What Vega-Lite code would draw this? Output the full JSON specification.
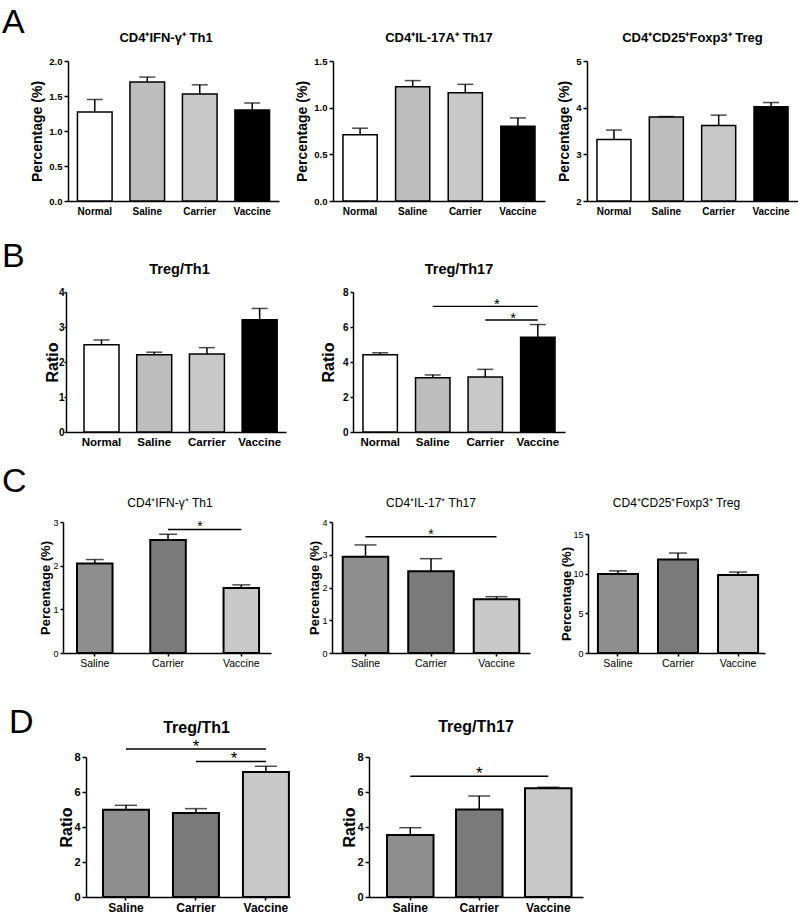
{
"$schema": "https://vega.github.io/schema/vega-lite/v6.json",
"background": "white",
"padding": {"left": 2, "top": 6, "right": 0, "bottom": 0},
"spacing": 17,
"resolve": {"scale": {"fill": "independent"}},
"config": {
  "font": "Liberation Sans",
  "view": {"stroke": null},
  "axis": {"grid": false, "labelOverlap": false, "domainColor": "black", "domainWidth": 1.5, "tickColor": "black", "tickWidth": 1.5, "labelColor": "black", "titleColor": "black", "labelFont": "Liberation Sans", "titleFont": "Liberation Sans", "labelFontWeight": "bold", "titleFontWeight": "bold"},
  "title": {"font": "Liberation Sans", "fontWeight": "bold", "color": "black"},
  "text": {"font": "Liberation Sans", "color": "black"}
},
"vconcat": [
 {"spacing": 24, "resolve": {"scale": {"fill": "independent"}}, "vconcat": [
  {"title": {"text": "A", "anchor": "start", "frame": "group", "fontSize": 34, "fontWeight": "normal", "dx": -61, "offset": -8},
   "bounds": "flush", "spacing": 54, "resolve": {"scale": {"fill": "independent"}},
   "hconcat": [
    {"width": 216, "height": 140,
     "title": {"text": "CD4⁺IFN-γ⁺ Th1", "fontSize": 13, "offset": 11, "dx": -5},
     "data": {"values": [
       {"group": "Normal", "value": 1.27, "err": 1.45},
       {"group": "Saline", "value": 1.70, "err": 1.77},
       {"group": "Carrier", "value": 1.53, "err": 1.66},
       {"group": "Vaccine", "value": 1.30, "err": 1.40}]},
     "layer": [
      {"mark": {"type": "bar", "stroke": "black", "strokeWidth": 1.5},
       "encoding": {
        "x": {"field": "group", "type": "nominal", "sort": null,
              "scale": {"domain": ["Normal", "Saline", "Carrier", "Vaccine"], "range": [5, 216], "paddingInner": 0.34, "paddingOuter": 0.18},
              "axis": {"title": null, "labelAngle": 0, "ticks": false, "labelFontSize": 10, "labelPadding": 5}},
        "y": {"field": "value", "type": "quantitative", "title": "Percentage (%)",
              "scale": {"domain": [0, 2], "nice": false},
              "axis": {"values": [0, 0.5, 1, 1.5, 2], "format": ".1f", "offset": -5, "labelFontSize": 9.5, "titleFontSize": 14, "titlePadding": 4, "tickSize": 4}},
        "fill": {"field": "group", "type": "nominal", "scale": {"domain": ["Normal", "Saline", "Carrier", "Vaccine"], "range": ["white", "#bdbdbd", "#c8c8c8", "black"]}, "legend": null}}},
      {"mark": {"type": "rule", "color": "black", "strokeWidth": 1.5},
       "encoding": {"x": {"field": "group", "type": "nominal", "title": null}, "y": {"field": "value", "type": "quantitative", "title": "Percentage (%)", "axis": {"values": [0, 0.5, 1, 1.5, 2], "format": ".1f", "offset": -5, "labelFontSize": 9.5, "titleFontSize": 14, "titlePadding": 4, "tickSize": 4}}, "y2": {"field": "err"}}},
      {"mark": {"type": "tick", "color": "black", "thickness": 1.5, "size": 16},
       "encoding": {"x": {"field": "group", "type": "nominal", "title": null}, "y": {"field": "err", "type": "quantitative", "title": "Percentage (%)", "axis": {"values": [0, 0.5, 1, 1.5, 2], "format": ".1f", "offset": -5, "labelFontSize": 9.5, "titleFontSize": 14, "titlePadding": 4, "tickSize": 4}}}}
     ]},
    {"bounds": "flush", "spacing": 42, "resolve": {"scale": {"fill": "independent"}},
     "hconcat": [
      {"width": 212, "height": 140,
       "title": {"text": "CD4⁺IL-17A⁺ Th17", "fontSize": 13, "offset": 11},
       "data": {"values": [
         {"group": "Normal", "value": 0.71, "err": 0.78},
         {"group": "Saline", "value": 1.225, "err": 1.29},
         {"group": "Carrier", "value": 1.16, "err": 1.25},
         {"group": "Vaccine", "value": 0.80, "err": 0.89}]},
       "layer": [
        {"mark": {"type": "bar", "stroke": "black", "strokeWidth": 1.5},
         "encoding": {
          "x": {"field": "group", "type": "nominal", "sort": null,
                "scale": {"domain": ["Normal", "Saline", "Carrier", "Vaccine"], "paddingInner": 0.35, "paddingOuter": 0.19},
                "axis": {"title": null, "labelAngle": 0, "ticks": false, "labelFontSize": 10, "labelPadding": 5}},
          "y": {"field": "value", "type": "quantitative", "title": "Percentage (%)",
                "scale": {"domain": [0, 1.5], "nice": false},
                "axis": {"values": [0, 0.5, 1, 1.5], "format": ".1f", "labelFontSize": 9.5, "titleFontSize": 14, "titlePadding": 4, "tickSize": 4}},
          "fill": {"field": "group", "type": "nominal", "scale": {"domain": ["Normal", "Saline", "Carrier", "Vaccine"], "range": ["white", "#bdbdbd", "#c8c8c8", "black"]}, "legend": null}}},
        {"mark": {"type": "rule", "color": "black", "strokeWidth": 1.5},
         "encoding": {"x": {"field": "group", "type": "nominal", "title": null}, "y": {"field": "value", "type": "quantitative", "title": "Percentage (%)", "axis": {"values": [0, 0.5, 1, 1.5], "format": ".1f", "labelFontSize": 9.5, "titleFontSize": 14, "titlePadding": 4, "tickSize": 4}}, "y2": {"field": "err"}}},
        {"mark": {"type": "tick", "color": "black", "thickness": 1.5, "size": 16},
         "encoding": {"x": {"field": "group", "type": "nominal", "title": null}, "y": {"field": "err", "type": "quantitative", "title": "Percentage (%)", "axis": {"values": [0, 0.5, 1, 1.5], "format": ".1f", "labelFontSize": 9.5, "titleFontSize": 14, "titlePadding": 4, "tickSize": 4}}}}
       ]},
      {"width": 211, "height": 140,
       "title": {"text": "CD4⁺CD25⁺Foxp3⁺ Treg", "fontSize": 13, "offset": 11},
       "data": {"values": [
         {"group": "Normal", "value": 3.32, "err": 3.52},
         {"group": "Saline", "value": 3.80, "err": 3.81},
         {"group": "Carrier", "value": 3.62, "err": 3.84},
         {"group": "Vaccine", "value": 4.02, "err": 4.11}]},
       "layer": [
        {"mark": {"type": "bar", "stroke": "black", "strokeWidth": 1.5},
         "encoding": {
          "x": {"field": "group", "type": "nominal", "sort": null,
                "scale": {"domain": ["Normal", "Saline", "Carrier", "Vaccine"], "paddingInner": 0.35, "paddingOuter": 0.19},
                "axis": {"title": null, "labelAngle": 0, "ticks": false, "labelFontSize": 10, "labelPadding": 5}},
          "y": {"field": "value", "type": "quantitative", "title": "Percentage (%)",
                "scale": {"domain": [2, 5], "nice": false, "zero": false},
                "axis": {"values": [2, 3, 4, 5], "format": "d", "labelFontSize": 9.5, "titleFontSize": 14, "titlePadding": 4, "tickSize": 4}},
          "y2": {"datum": 2},
          "fill": {"field": "group", "type": "nominal", "scale": {"domain": ["Normal", "Saline", "Carrier", "Vaccine"], "range": ["white", "#bdbdbd", "#c8c8c8", "black"]}, "legend": null}}},
        {"mark": {"type": "rule", "color": "black", "strokeWidth": 1.5},
         "encoding": {"x": {"field": "group", "type": "nominal", "title": null}, "y": {"field": "value", "type": "quantitative", "title": "Percentage (%)", "axis": {"values": [2, 3, 4, 5], "format": "d", "labelFontSize": 9.5, "titleFontSize": 14, "titlePadding": 4, "tickSize": 4}}, "y2": {"field": "err"}}},
        {"mark": {"type": "tick", "color": "black", "thickness": 1.5, "size": 16},
         "encoding": {"x": {"field": "group", "type": "nominal", "title": null}, "y": {"field": "err", "type": "quantitative", "title": "Percentage (%)", "axis": {"values": [2, 3, 4, 5], "format": "d", "labelFontSize": 9.5, "titleFontSize": 14, "titlePadding": 4, "tickSize": 4}}}}
       ]}
     ]}
   ]},
  {"title": {"text": "B", "anchor": "start", "frame": "group", "fontSize": 34, "fontWeight": "normal", "dx": -61, "offset": -12},
   "bounds": "flush", "spacing": 67, "resolve": {"scale": {"fill": "independent"}},
   "hconcat": [
    {"width": 223, "height": 140,
     "title": {"text": "Treg/Th1", "fontSize": 14.5, "offset": 9.5, "dx": 5},
     "data": {"values": [
       {"group": "Normal", "value": 2.49, "err": 2.63},
       {"group": "Saline", "value": 2.21, "err": 2.28},
       {"group": "Carrier", "value": 2.23, "err": 2.41},
       {"group": "Vaccine", "value": 3.21, "err": 3.53}]},
     "layer": [
      {"mark": {"type": "bar", "stroke": "black", "strokeWidth": 1.5},
       "encoding": {
        "x": {"field": "group", "type": "nominal", "sort": null,
              "scale": {"domain": ["Normal", "Saline", "Carrier", "Vaccine"], "range": [3, 223], "paddingInner": 0.336, "paddingOuter": 0.255, "align": 0.67},
              "axis": {"title": null, "labelAngle": 0, "ticks": false, "labelFontSize": 11.5, "labelPadding": 4}},
        "y": {"field": "value", "type": "quantitative", "title": "Ratio",
              "scale": {"domain": [0, 4], "nice": false},
              "axis": {"values": [0, 1, 2, 3, 4], "format": "d", "offset": -3, "labelFontSize": 10, "labelPadding": 0, "titleFontSize": 16, "titlePadding": -2, "tickSize": 2}},
        "fill": {"field": "group", "type": "nominal", "scale": {"domain": ["Normal", "Saline", "Carrier", "Vaccine"], "range": ["white", "#bdbdbd", "#c8c8c8", "black"]}, "legend": null}}},
      {"mark": {"type": "rule", "color": "black", "strokeWidth": 1.5},
       "encoding": {"x": {"field": "group", "type": "nominal", "title": null}, "y": {"field": "value", "type": "quantitative", "title": "Ratio", "axis": {"values": [0, 1, 2, 3, 4], "format": "d", "offset": -3, "labelFontSize": 10, "labelPadding": 0, "titleFontSize": 16, "titlePadding": -2, "tickSize": 2}}, "y2": {"field": "err"}}},
      {"mark": {"type": "tick", "color": "black", "thickness": 1.5, "size": 16},
       "encoding": {"x": {"field": "group", "type": "nominal", "title": null}, "y": {"field": "err", "type": "quantitative", "title": "Ratio", "axis": {"values": [0, 1, 2, 3, 4], "format": "d", "offset": -3, "labelFontSize": 10, "labelPadding": 0, "titleFontSize": 16, "titlePadding": -2, "tickSize": 2}}}}
     ]},
    {"width": 212, "height": 140,
     "title": {"text": "Treg/Th17", "fontSize": 14.5, "offset": 9.5},
     "data": {"values": [
       {"group": "Normal", "value": 4.42, "err": 4.53},
       {"group": "Saline", "value": 3.10, "err": 3.26},
       {"group": "Carrier", "value": 3.14, "err": 3.58},
       {"group": "Vaccine", "value": 5.41, "err": 6.14}]},
     "layer": [
      {"mark": {"type": "bar", "stroke": "black", "strokeWidth": 1.5},
       "encoding": {
        "x": {"field": "group", "type": "nominal", "sort": null,
              "scale": {"domain": ["Normal", "Saline", "Carrier", "Vaccine"], "paddingInner": 0.345, "paddingOuter": 0.19},
              "axis": {"title": null, "labelAngle": 0, "ticks": false, "labelFontSize": 11.5, "labelPadding": 4}},
        "y": {"field": "value", "type": "quantitative", "title": "Ratio",
              "scale": {"domain": [0, 8], "nice": false},
              "axis": {"values": [0, 2, 4, 6, 8], "format": "d", "labelFontSize": 10, "titleFontSize": 16, "titlePadding": 6, "tickSize": 3}},
        "fill": {"field": "group", "type": "nominal", "scale": {"domain": ["Normal", "Saline", "Carrier", "Vaccine"], "range": ["white", "#bdbdbd", "#c8c8c8", "black"]}, "legend": null}}},
      {"mark": {"type": "rule", "color": "black", "strokeWidth": 1.5},
       "encoding": {"x": {"field": "group", "type": "nominal", "title": null}, "y": {"field": "value", "type": "quantitative", "title": "Ratio", "axis": {"values": [0, 2, 4, 6, 8], "format": "d", "labelFontSize": 10, "titleFontSize": 16, "titlePadding": 6, "tickSize": 3}}, "y2": {"field": "err"}}},
      {"mark": {"type": "tick", "color": "black", "thickness": 1.5, "size": 16},
       "encoding": {"x": {"field": "group", "type": "nominal", "title": null}, "y": {"field": "err", "type": "quantitative", "title": "Ratio", "axis": {"values": [0, 2, 4, 6, 8], "format": "d", "labelFontSize": 10, "titleFontSize": 16, "titlePadding": 6, "tickSize": 3}}}},
      {"data": {"values": [{"from": "Saline", "to": "Vaccine", "y": 7.18}, {"from": "Carrier", "to": "Vaccine", "y": 6.4}]},
       "mark": {"type": "rule", "color": "black", "strokeWidth": 1.3},
       "encoding": {"x": {"field": "from", "type": "nominal", "title": null}, "x2": {"field": "to"}, "y": {"field": "y", "type": "quantitative", "title": "Ratio", "axis": {"values": [0, 2, 4, 6, 8], "format": "d", "labelFontSize": 10, "titleFontSize": 16, "titlePadding": 6, "tickSize": 3}}}},
      {"data": {"values": [{"at": "Carrier", "y": 7.18}]},
       "mark": {"type": "text", "text": "*", "fontSize": 15, "baseline": "middle", "dy": -2},
       "encoding": {"x": {"field": "at", "type": "nominal", "bandPosition": 0.84, "title": null}, "y": {"field": "y", "type": "quantitative", "title": "Ratio", "axis": {"values": [0, 2, 4, 6, 8], "format": "d", "labelFontSize": 10, "titleFontSize": 16, "titlePadding": 6, "tickSize": 3}}}},
      {"data": {"values": [{"at": "Carrier", "y": 6.4}]},
       "mark": {"type": "text", "text": "*", "fontSize": 15, "baseline": "middle", "dy": -2},
       "encoding": {"x": {"field": "at", "type": "nominal", "bandPosition": 1.31, "title": null}, "y": {"field": "y", "type": "quantitative", "title": "Ratio", "axis": {"values": [0, 2, 4, 6, 8], "format": "d", "labelFontSize": 10, "titleFontSize": 16, "titlePadding": 6, "tickSize": 3}}}}
     ]}
   ]}
 ]},
 {"spacing": 37, "resolve": {"scale": {"fill": "independent"}}, "vconcat": [
  {"title": {"text": "C", "anchor": "start", "frame": "group", "fontSize": 34, "fontWeight": "normal", "dx": -61, "offset": -2},
   "bounds": "flush", "spacing": 61, "resolve": {"scale": {"fill": "independent"}},
   "hconcat": [
    {"width": 208, "height": 131,
     "title": {"text": "CD4⁺IFN-γ⁺ Th1", "fontSize": 12, "fontWeight": "normal", "offset": 8, "dx": 3},
     "data": {"values": [
       {"group": "Saline", "value": 2.05, "err": 2.14},
       {"group": "Carrier", "value": 2.59, "err": 2.72},
       {"group": "Vaccine", "value": 1.49, "err": 1.56}]},
     "layer": [
      {"mark": {"type": "bar", "stroke": "black", "strokeWidth": 2},
       "encoding": {
        "x": {"field": "group", "type": "nominal", "sort": null,
              "scale": {"domain": ["Saline", "Carrier", "Vaccine"], "paddingInner": 0.515, "paddingOuter": 0.177, "align": 0.54},
              "axis": {"title": null, "labelAngle": 0, "ticks": true, "tickSize": 3, "labelFontSize": 10.5, "labelFontWeight": "normal", "labelPadding": 2}},
        "y": {"field": "value", "type": "quantitative", "title": "Percentage (%)",
              "scale": {"domain": [0, 3], "nice": false},
              "axis": {"values": [0, 1, 2, 3], "format": "d", "labelFontSize": 9, "labelFontWeight": "normal", "titleFontSize": 13, "titlePadding": 0, "tickSize": 3}},
        "fill": {"field": "group", "type": "nominal", "scale": {"domain": ["Saline", "Carrier", "Vaccine"], "range": ["#8e8e8e", "#7a7a7a", "#c8c8c8"]}, "legend": null}}},
      {"mark": {"type": "rule", "color": "black", "strokeWidth": 1.5},
       "encoding": {"x": {"field": "group", "type": "nominal", "title": null}, "y": {"field": "value", "type": "quantitative", "title": "Percentage (%)", "axis": {"values": [0, 1, 2, 3], "format": "d", "labelFontSize": 9, "labelFontWeight": "normal", "titleFontSize": 13, "titlePadding": 0, "tickSize": 3}}, "y2": {"field": "err"}}},
      {"mark": {"type": "tick", "color": "black", "thickness": 1.5, "size": 18},
       "encoding": {"x": {"field": "group", "type": "nominal", "title": null}, "y": {"field": "err", "type": "quantitative", "title": "Percentage (%)", "axis": {"values": [0, 1, 2, 3], "format": "d", "labelFontSize": 9, "labelFontWeight": "normal", "titleFontSize": 13, "titlePadding": 0, "tickSize": 3}}}},
      {"data": {"values": [{"from": "Carrier", "to": "Vaccine", "y": 2.83}]},
       "mark": {"type": "rule", "color": "black", "strokeWidth": 1.5},
       "encoding": {"x": {"field": "from", "type": "nominal", "title": null}, "x2": {"field": "to"}, "y": {"field": "y", "type": "quantitative", "title": "Percentage (%)", "axis": {"values": [0, 1, 2, 3], "format": "d", "labelFontSize": 9, "labelFontWeight": "normal", "titleFontSize": 13, "titlePadding": 0, "tickSize": 3}}}},
      {"data": {"values": [{"at": "Carrier", "y": 2.83}]},
       "mark": {"type": "text", "text": "*", "fontSize": 14, "baseline": "middle", "dy": -2},
       "encoding": {"x": {"field": "at", "type": "nominal", "bandPosition": 1.4, "title": null}, "y": {"field": "y", "type": "quantitative", "title": "Percentage (%)", "axis": {"values": [0, 1, 2, 3], "format": "d", "labelFontSize": 9, "labelFontWeight": "normal", "titleFontSize": 13, "titlePadding": 0, "tickSize": 3}}}}
     ]},
    {"bounds": "flush", "spacing": 58, "resolve": {"scale": {"fill": "independent"}},
     "hconcat": [
      {"width": 198, "height": 131,
       "title": {"text": "CD4⁺IL-17⁺ Th17", "fontSize": 12, "fontWeight": "normal", "offset": 8},
       "data": {"values": [
         {"group": "Saline", "value": 2.94, "err": 3.30},
         {"group": "Carrier", "value": 2.50, "err": 2.88},
         {"group": "Vaccine", "value": 1.64, "err": 1.72}]},
       "layer": [
        {"mark": {"type": "bar", "stroke": "black", "strokeWidth": 2},
         "encoding": {
          "x": {"field": "group", "type": "nominal", "sort": null,
                "scale": {"domain": ["Saline", "Carrier", "Vaccine"], "paddingInner": 0.305, "paddingOuter": 0.164},
                "axis": {"title": null, "labelAngle": 0, "ticks": true, "tickSize": 3, "labelFontSize": 10.5, "labelFontWeight": "normal", "labelPadding": 2}},
          "y": {"field": "value", "type": "quantitative", "title": "Percentage (%)",
                "scale": {"domain": [0, 4], "nice": false},
                "axis": {"values": [0, 1, 2, 3, 4], "format": "d", "labelFontSize": 9, "labelFontWeight": "normal", "titleFontSize": 13, "titlePadding": 0, "tickSize": 3}},
          "fill": {"field": "group", "type": "nominal", "scale": {"domain": ["Saline", "Carrier", "Vaccine"], "range": ["#8e8e8e", "#7a7a7a", "#c8c8c8"]}, "legend": null}}},
        {"mark": {"type": "rule", "color": "black", "strokeWidth": 1.5},
         "encoding": {"x": {"field": "group", "type": "nominal", "title": null}, "y": {"field": "value", "type": "quantitative", "title": "Percentage (%)", "axis": {"values": [0, 1, 2, 3, 4], "format": "d", "labelFontSize": 9, "labelFontWeight": "normal", "titleFontSize": 13, "titlePadding": 0, "tickSize": 3}}, "y2": {"field": "err"}}},
        {"mark": {"type": "tick", "color": "black", "thickness": 1.5, "size": 22},
         "encoding": {"x": {"field": "group", "type": "nominal", "title": null}, "y": {"field": "err", "type": "quantitative", "title": "Percentage (%)", "axis": {"values": [0, 1, 2, 3, 4], "format": "d", "labelFontSize": 9, "labelFontWeight": "normal", "titleFontSize": 13, "titlePadding": 0, "tickSize": 3}}}},
        {"data": {"values": [{"from": "Saline", "to": "Vaccine", "y": 3.55}]},
         "mark": {"type": "rule", "color": "black", "strokeWidth": 1.5},
         "encoding": {"x": {"field": "from", "type": "nominal", "title": null}, "x2": {"field": "to"}, "y": {"field": "y", "type": "quantitative", "title": "Percentage (%)", "axis": {"values": [0, 1, 2, 3, 4], "format": "d", "labelFontSize": 9, "labelFontWeight": "normal", "titleFontSize": 13, "titlePadding": 0, "tickSize": 3}}}},
        {"data": {"values": [{"at": "Carrier", "y": 3.55}]},
         "mark": {"type": "text", "text": "*", "fontSize": 14, "baseline": "middle", "dy": -2},
         "encoding": {"x": {"field": "at", "type": "nominal", "title": null}, "y": {"field": "y", "type": "quantitative", "title": "Percentage (%)", "axis": {"values": [0, 1, 2, 3, 4], "format": "d", "labelFontSize": 9, "labelFontWeight": "normal", "titleFontSize": 13, "titlePadding": 0, "tickSize": 3}}}}
       ]},
      {"width": 177, "height": 131,
       "title": {"text": "CD4⁺CD25⁺Foxp3⁺ Treg", "fontSize": 12, "fontWeight": "normal", "offset": 12},
       "data": {"values": [
         {"group": "Saline", "value": 9.96, "err": 10.35},
         {"group": "Carrier", "value": 11.8, "err": 12.6},
         {"group": "Vaccine", "value": 9.84, "err": 10.2}]},
       "layer": [
        {"mark": {"type": "bar", "stroke": "black", "strokeWidth": 2},
         "encoding": {
          "x": {"field": "group", "type": "nominal", "sort": null,
                "scale": {"domain": ["Saline", "Carrier", "Vaccine"], "paddingInner": 0.333, "paddingOuter": 0.14, "align": 0.59},
                "axis": {"title": null, "labelAngle": 0, "ticks": true, "tickSize": 3, "labelFontSize": 10.5, "labelFontWeight": "normal", "labelPadding": 2}},
          "y": {"field": "value", "type": "quantitative", "title": "Percentage (%)",
                "scale": {"domain": [0, 15], "nice": false, "range": [131, 12]},
                "axis": {"values": [0, 5, 10, 15], "format": "d", "labelFontSize": 9, "labelFontWeight": "normal", "titleFontSize": 13, "titlePadding": -1, "tickSize": 3}},
          "fill": {"field": "group", "type": "nominal", "scale": {"domain": ["Saline", "Carrier", "Vaccine"], "range": ["#8e8e8e", "#7a7a7a", "#c8c8c8"]}, "legend": null}}},
        {"mark": {"type": "rule", "color": "black", "strokeWidth": 1.5},
         "encoding": {"x": {"field": "group", "type": "nominal", "title": null}, "y": {"field": "value", "type": "quantitative", "title": "Percentage (%)", "axis": {"values": [0, 5, 10, 15], "format": "d", "labelFontSize": 9, "labelFontWeight": "normal", "titleFontSize": 13, "titlePadding": -1, "tickSize": 3}}, "y2": {"field": "err"}}},
        {"mark": {"type": "tick", "color": "black", "thickness": 1.5, "size": 18},
         "encoding": {"x": {"field": "group", "type": "nominal", "title": null}, "y": {"field": "err", "type": "quantitative", "title": "Percentage (%)", "axis": {"values": [0, 5, 10, 15], "format": "d", "labelFontSize": 9, "labelFontWeight": "normal", "titleFontSize": 13, "titlePadding": -1, "tickSize": 3}}}}
       ]}
     ]}
   ]},
  {"title": {"text": "D", "anchor": "start", "frame": "group", "fontSize": 34, "fontWeight": "normal", "dx": -54, "offset": -21},
   "bounds": "flush", "spacing": 79, "resolve": {"scale": {"fill": "independent"}},
   "hconcat": [
    {"width": 227, "height": 140,
     "title": {"text": "Treg/Th1", "fontSize": 16, "offset": 2, "dx": 20},
     "data": {"values": [
       {"group": "Saline", "value": 4.99, "err": 5.24},
       {"group": "Carrier", "value": 4.80, "err": 5.05},
       {"group": "Vaccine", "value": 7.15, "err": 7.47}]},
     "layer": [
      {"mark": {"type": "bar", "stroke": "black", "strokeWidth": 2},
       "encoding": {
        "x": {"field": "group", "type": "nominal", "sort": null,
              "scale": {"domain": ["Saline", "Carrier", "Vaccine"], "range": [23, 227], "paddingInner": 0.343, "paddingOuter": 0.129, "align": 0.94},
              "axis": {"title": null, "labelAngle": 0, "ticks": true, "tickSize": 3, "labelFontSize": 12, "labelPadding": 2}},
        "y": {"field": "value", "type": "quantitative", "title": "Ratio",
              "scale": {"domain": [0, 8], "nice": false},
              "axis": {"values": [0, 2, 4, 6, 8], "format": "d", "offset": -23, "labelFontSize": 11, "titleFontSize": 16, "titlePadding": -1, "tickSize": 4}},
        "fill": {"field": "group", "type": "nominal", "scale": {"domain": ["Saline", "Carrier", "Vaccine"], "range": ["#8e8e8e", "#7a7a7a", "#c8c8c8"]}, "legend": null}}},
      {"mark": {"type": "rule", "color": "black", "strokeWidth": 1.5},
       "encoding": {"x": {"field": "group", "type": "nominal", "title": null}, "y": {"field": "value", "type": "quantitative", "title": "Ratio", "axis": {"values": [0, 2, 4, 6, 8], "format": "d", "offset": -23, "labelFontSize": 11, "titleFontSize": 16, "titlePadding": -1, "tickSize": 4}}, "y2": {"field": "err"}}},
      {"mark": {"type": "tick", "color": "black", "thickness": 1.5, "size": 22},
       "encoding": {"x": {"field": "group", "type": "nominal", "title": null}, "y": {"field": "err", "type": "quantitative", "title": "Ratio", "axis": {"values": [0, 2, 4, 6, 8], "format": "d", "offset": -23, "labelFontSize": 11, "titleFontSize": 16, "titlePadding": -1, "tickSize": 4}}}},
      {"data": {"values": [{"from": "Saline", "to": "Vaccine", "y": 8.46}, {"from": "Carrier", "to": "Vaccine", "y": 7.75}]},
       "mark": {"type": "rule", "color": "black", "strokeWidth": 1.5},
       "encoding": {"x": {"field": "from", "type": "nominal", "title": null}, "x2": {"field": "to"}, "y": {"field": "y", "type": "quantitative", "title": "Ratio", "axis": {"values": [0, 2, 4, 6, 8], "format": "d", "offset": -23, "labelFontSize": 11, "titleFontSize": 16, "titlePadding": -1, "tickSize": 4}}}},
      {"data": {"values": [{"at": "Carrier", "y": 8.46}]},
       "mark": {"type": "text", "text": "*", "fontSize": 17, "baseline": "middle", "dy": -2},
       "encoding": {"x": {"field": "at", "type": "nominal", "title": null}, "y": {"field": "y", "type": "quantitative", "title": "Ratio", "axis": {"values": [0, 2, 4, 6, 8], "format": "d", "offset": -23, "labelFontSize": 11, "titleFontSize": 16, "titlePadding": -1, "tickSize": 4}}}},
      {"data": {"values": [{"at": "Carrier", "y": 7.75}]},
       "mark": {"type": "text", "text": "*", "fontSize": 17, "baseline": "middle", "dy": -2},
       "encoding": {"x": {"field": "at", "type": "nominal", "bandPosition": 1.33, "title": null}, "y": {"field": "y", "type": "quantitative", "title": "Ratio", "axis": {"values": [0, 2, 4, 6, 8], "format": "d", "offset": -23, "labelFontSize": 11, "titleFontSize": 16, "titlePadding": -1, "tickSize": 4}}}}
     ]},
    {"width": 214, "height": 140,
     "title": {"text": "Treg/Th17", "fontSize": 16, "offset": 16},
     "data": {"values": [
       {"group": "Saline", "value": 3.54, "err": 3.96},
       {"group": "Carrier", "value": 5.00, "err": 5.77},
       {"group": "Vaccine", "value": 6.21, "err": 6.27}]},
     "layer": [
      {"mark": {"type": "bar", "stroke": "black", "strokeWidth": 2},
       "encoding": {
        "x": {"field": "group", "type": "nominal", "sort": null,
              "scale": {"domain": ["Saline", "Carrier", "Vaccine"], "paddingInner": 0.326, "paddingOuter": 0.214, "align": 0.61},
              "axis": {"title": null, "labelAngle": 0, "ticks": true, "tickSize": 3, "labelFontSize": 12, "labelPadding": 2}},
        "y": {"field": "value", "type": "quantitative", "title": "Ratio",
              "scale": {"domain": [0, 8], "nice": false},
              "axis": {"values": [0, 2, 4, 6, 8], "format": "d", "labelFontSize": 11, "titleFontSize": 16, "titlePadding": -1, "tickSize": 4}},
        "fill": {"field": "group", "type": "nominal", "scale": {"domain": ["Saline", "Carrier", "Vaccine"], "range": ["#8e8e8e", "#7a7a7a", "#c8c8c8"]}, "legend": null}}},
      {"mark": {"type": "rule", "color": "black", "strokeWidth": 1.5},
       "encoding": {"x": {"field": "group", "type": "nominal", "title": null}, "y": {"field": "value", "type": "quantitative", "title": "Ratio", "axis": {"values": [0, 2, 4, 6, 8], "format": "d", "labelFontSize": 11, "titleFontSize": 16, "titlePadding": -1, "tickSize": 4}}, "y2": {"field": "err"}}},
      {"mark": {"type": "tick", "color": "black", "thickness": 1.5, "size": 22},
       "encoding": {"x": {"field": "group", "type": "nominal", "title": null}, "y": {"field": "err", "type": "quantitative", "title": "Ratio", "axis": {"values": [0, 2, 4, 6, 8], "format": "d", "labelFontSize": 11, "titleFontSize": 16, "titlePadding": -1, "tickSize": 4}}}},
      {"data": {"values": [{"from": "Saline", "to": "Vaccine", "y": 6.9}]},
       "mark": {"type": "rule", "color": "black", "strokeWidth": 1.5},
       "encoding": {"x": {"field": "from", "type": "nominal", "title": null}, "x2": {"field": "to"}, "y": {"field": "y", "type": "quantitative", "title": "Ratio", "axis": {"values": [0, 2, 4, 6, 8], "format": "d", "labelFontSize": 11, "titleFontSize": 16, "titlePadding": -1, "tickSize": 4}}}},
      {"data": {"values": [{"at": "Carrier", "y": 6.9}]},
       "mark": {"type": "text", "text": "*", "fontSize": 17, "baseline": "middle", "dy": -2},
       "encoding": {"x": {"field": "at", "type": "nominal", "title": null}, "y": {"field": "y", "type": "quantitative", "title": "Ratio", "axis": {"values": [0, 2, 4, 6, 8], "format": "d", "labelFontSize": 11, "titleFontSize": 16, "titlePadding": -1, "tickSize": 4}}}}
     ]}
   ]}
 ]}
]
}
